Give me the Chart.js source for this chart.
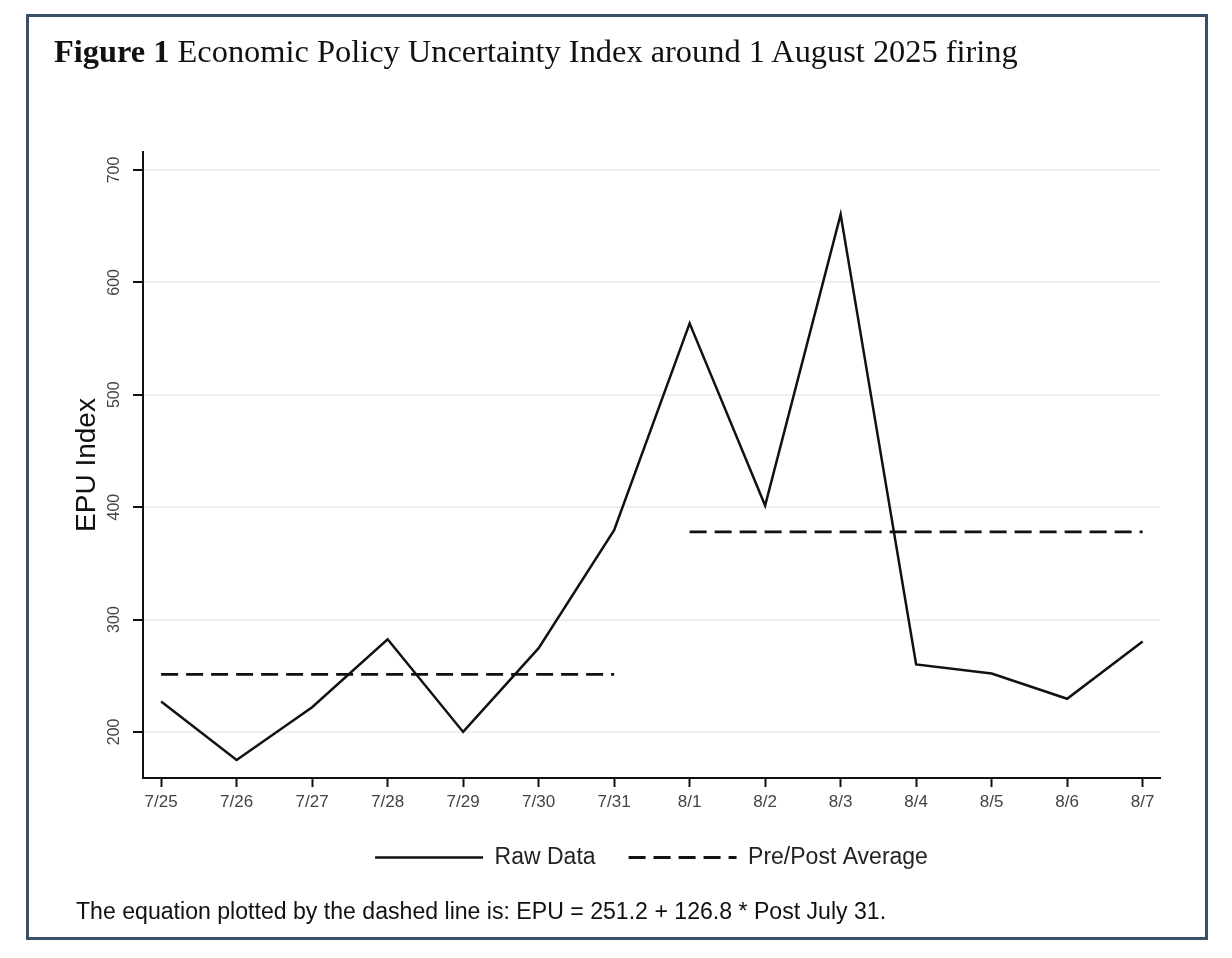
<!DOCTYPE html>
<html>
<head>
<meta charset="utf-8">
<script src="https://cdn.jsdelivr.net/npm/chart.js@4.4.1/dist/chart.umd.min.js"></script>
<style>
  html, body { margin: 0; padding: 0; background: #fff; }
  #wrap { position: relative; width: 1232px; height: 958px; }
  #chart-box { position: absolute; left: 0; top: 0; width: 1232px; height: 958px; }
  #frame {
    position: absolute; left: 26px; top: 14px; width: 1176px; height: 920px;
    border: 3px solid #3b4f67; pointer-events: none;
  }
  #title {
    position: absolute; left: 54px; top: 35px; margin: 0; line-height: 32px;
    font-family: "Liberation Serif", serif; font-size: 32.4px; font-weight: normal; color: #111;
    white-space: nowrap;
  }
  #title b { font-weight: bold; }
  #note {
    position: absolute; left: 76px; top: 900px; margin: 0; line-height: 23px;
    font-family: "Liberation Sans", Arial, sans-serif; font-size: 23.1px; color: #111;
    white-space: nowrap;
  }
</style>
</head>
<body>
<div id="wrap">
  <div id="chart-box"><canvas id="c"></canvas></div>
  <div id="frame"></div>
  <p id="title"><b>Figure 1</b> Economic Policy Uncertainty Index around 1 August 2025 firing</p>
  <p id="note">The equation plotted by the dashed line is: EPU = 251.2 + 126.8 * Post July 31.</p>
</div>
<script>
// Данные
const dates = ['7/25', '7/26', '7/27', '7/28', '7/29', '7/30', '7/31',
               '8/1', '8/2', '8/3', '8/4', '8/5', '8/6', '8/7'];
const epu = [227, 175, 222, 282.5, 200, 274.5, 379.5,
             563.5, 401.5, 660.5, 260, 252, 229.5, 280.5];
// Среднее до/после 31 июля
const prePostAvg = [251.2, 251.2, 251.2, 251.2, 251.2, 251.2, 251.2,
                    378, 378, 378, 378, 378, 378, 378];
const yTicks = [200, 300, 400, 500, 600, 700];

const INK = '#111';
const TICK_TEXT = '#444';
const GRID = '#edf0ee';
const SANS = '"Liberation Sans", Arial, sans-serif';

// Подписи оси Y повернуты вертикально, как в оригинале
const yTickText = {
  id: 'yTickText',
  afterDraw(chart) {
    const scale = chart.scales.y;
    const ctx = chart.ctx;
    ctx.save();
    ctx.font = '16px ' + SANS;
    ctx.fillStyle = TICK_TEXT;
    ctx.textAlign = 'center';
    ctx.textBaseline = 'middle';
    scale.ticks.forEach(t => {
      const y = scale.getPixelForValue(t.value);
      ctx.save();
      ctx.translate(scale.right - 28, y);
      ctx.rotate(-Math.PI / 2);
      ctx.fillText(String(t.value), 0, 0);
      ctx.restore();
    });
    ctx.restore();
  }
};

// Легенда: берем штрих и толщину линии из набора данных
const legendLabels = chart =>
  Chart.defaults.plugins.legend.labels.generateLabels(chart).map(item => {
    const ds = chart.data.datasets[item.datasetIndex];
    item.lineDash = ds.borderDash || [];
    item.lineWidth = ds.borderWidth;
    item.strokeStyle = ds.borderColor;
    return item;
  });

new Chart(document.getElementById('c'), {
  type: 'line',
  data: {
    labels: dates.map((_, i) => i),
    datasets: [
      {
        label: 'Raw Data',
        data: epu.map((v, i) => ({ x: i, y: v })),
        borderColor: INK,
        backgroundColor: INK,
        borderWidth: 2.5,
        pointRadius: 0,
        tension: 0
      },
      {
        label: 'Pre/Post Average',
        data: prePostAvg.map((v, i) => ({ x: i, y: v })),
        borderColor: INK,
        backgroundColor: INK,
        borderWidth: 2.8,
        borderDash: [17, 8],
        pointRadius: 0,
        tension: 0,
        segment: {
          // разрыв между 7/31 и 8/1
          borderColor: ctx => ctx.p0DataIndex === 6 ? 'rgba(0,0,0,0)' : undefined
        }
      }
    ]
  },
  options: {
    responsive: true,
    maintainAspectRatio: false,
    animation: false,
    layout: { padding: { left: 66, right: 72, top: 152, bottom: 79 } },
    plugins: {
      tooltip: { enabled: false },
      legend: {
        position: 'bottom',
        fullSize: false,
        labels: {
          usePointStyle: true,
          pointStyle: 'line',
          pointStyleWidth: 108,
          padding: 33,
          color: '#222',
          font: { family: SANS, size: 23 },
          generateLabels: legendLabels
        }
      }
    },
    scales: {
      x: {
        type: 'linear',
        min: -0.24,
        max: 13.23,
        afterFit: s => { s.height = 35; },
        afterBuildTicks: s => { s.ticks = dates.map((_, i) => ({ value: i })); },
        ticks: {
          autoSkip: false,
          maxRotation: 0,
          padding: 5,
          color: TICK_TEXT,
          font: { family: SANS, size: 17 },
          callback: v => dates[v]
        },
        grid: {
          drawOnChartArea: false,
          drawTicks: true,
          tickLength: 9,
          tickWidth: 2,
          tickColor: INK
        },
        border: { display: true, color: INK, width: 2 }
      },
      y: {
        type: 'linear',
        min: 159,
        max: 716,
        afterFit: s => { s.width = 77; },
        afterBuildTicks: s => { s.ticks = yTicks.map(v => ({ value: v })); },
        ticks: { display: false },
        grid: {
          color: GRID,
          lineWidth: 2,
          drawTicks: true,
          tickLength: 10,
          tickWidth: 2,
          tickColor: INK
        },
        border: { display: true, color: INK, width: 2 },
        title: {
          display: true,
          text: 'EPU Index',
          color: INK,
          font: { family: SANS, size: 28 }
        }
      }
    }
  },
  plugins: [yTickText]
});
</script>
</body>
</html>
